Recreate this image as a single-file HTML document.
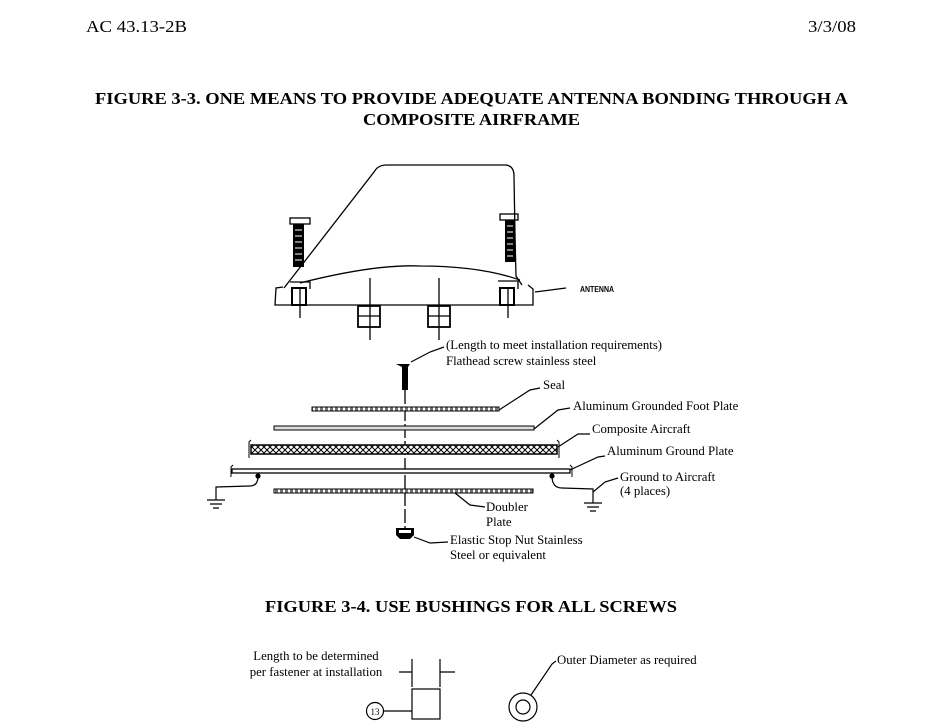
<!DOCTYPE html>
<html><head><meta charset="utf-8"><style>
html,body{margin:0;padding:0;background:#fff;}
svg{display:block;font-family:"Liberation Serif",serif;}
</style></head><body>
<svg width="940" height="728" viewBox="0 0 940 728" xmlns="http://www.w3.org/2000/svg">
<defs>
<pattern id="hatch" width="6" height="6" patternUnits="userSpaceOnUse">
<rect width="6" height="6" fill="#fff"/>
<path d="M0 3L3 0L6 3L3 6Z" fill="none" stroke="#000" stroke-width="1"/>
</pattern>
<pattern id="dash" width="5" height="4" patternUnits="userSpaceOnUse">
<rect width="5" height="4" fill="#fff"/><rect x="0" y="0" width="3" height="4" fill="#000" opacity="0.55"/>
</pattern>
</defs>
<text x="86" y="32" font-size="17" textLength="101" lengthAdjust="spacingAndGlyphs">AC 43.13-2B</text>
<text x="808" y="32" font-size="17" textLength="48" lengthAdjust="spacingAndGlyphs">3/3/08</text>
<text x="95" y="104" font-size="16.5" font-weight="bold" textLength="753" lengthAdjust="spacingAndGlyphs">FIGURE 3-3.  ONE MEANS TO PROVIDE ADEQUATE ANTENNA BONDING THROUGH A</text>
<text x="363" y="125" font-size="16.5" font-weight="bold" textLength="217" lengthAdjust="spacingAndGlyphs">COMPOSITE AIRFRAME</text>

<g fill="none" stroke="#000" stroke-width="1.3">
<path d="M284 288 L374 172 Q378 165 386 165 L506 165 Q514 166 514 176 L515 235 L516 276 L522 285"/>
<path d="M300 283 Q375 264 420 266 Q480 266 520 280"/>
<path d="M283 287 L276 288 L275 305 L533 305 L533 289 L528 285"/>
<rect x="292" y="288" width="14" height="17" stroke-width="2"/>
<rect x="500" y="288" width="14" height="17" stroke-width="2"/>
<path d="M290 282 L310 282 L310 289 M498 281 L518 281 L518 289"/>
<line x1="300" y1="288" x2="300" y2="318"/>
<line x1="508" y1="288" x2="508" y2="318"/>
<line x1="370" y1="278" x2="370" y2="340"/>
<line x1="439" y1="278" x2="439" y2="340"/>
<rect x="358" y="306" width="22" height="21" stroke-width="1.8"/>
<line x1="358" y1="316" x2="380" y2="316"/>
<rect x="428" y="306" width="22" height="21" stroke-width="1.8"/>
<line x1="428" y1="316" x2="450" y2="316"/>
<rect x="290" y="218" width="20" height="6"/>
<rect x="500" y="214" width="18" height="6"/>
</g>
<rect x="293" y="224" width="11" height="43" fill="#000"/>
<rect x="505" y="220" width="10" height="42" fill="#000"/>
<g stroke="#fff" stroke-width="1">
<path d="M295 230h7M295 236h7M295 242h7M295 248h7M295 254h7M295 260h7"/>
<path d="M507 226h6M507 232h6M507 238h6M507 244h6M507 250h6M507 256h6"/>
</g>
<path d="M535 292 L566 288" stroke="#000" stroke-width="1.3"/>
<text x="580" y="292" font-size="8" font-weight="bold" font-family="Liberation Sans,sans-serif" textLength="34" lengthAdjust="spacingAndGlyphs">ANTENNA</text>

<line x1="405" y1="390" x2="405" y2="530" stroke="#000" stroke-width="1.3" stroke-dasharray="14,3"/>
<path d="M396 364 L410 364 L408 367 L408 390 L402 390 L402 367 Z" fill="#000"/>
<rect x="312" y="407" width="187" height="4" fill="url(#dash)" stroke="#000"/>
<rect x="274" y="426" width="260" height="4" fill="#ddd" stroke="#000"/>
<rect x="251" y="445" width="306" height="9" fill="url(#hatch)" stroke="#000" stroke-width="1.5"/>
<path d="M251 440 L249 442 L249 458 M557 440 L559 442 L559 458" fill="none" stroke="#000"/>
<rect x="232" y="469" width="338" height="4" fill="#fff" stroke="#000" stroke-width="1.3"/>
<path d="M233 465 L231 467 L231 477 M570 465 L572 467 L572 477" fill="none" stroke="#000"/>
<rect x="274" y="489" width="259" height="4" fill="url(#dash)" stroke="#000"/>
<path d="M396 528 L414 528 L414 535 L410 539 L400 539 L396 535 Z" fill="#000"/>
<rect x="399" y="530" width="12" height="3" fill="#fff"/>

<g fill="none" stroke="#000" stroke-width="1.2">
<circle cx="258" cy="476" r="2" fill="#000"/>
<path d="M258 476 Q258 486 250 486 L216 487 L216 500"/>
<path d="M207 500h18M210 504h12M213 508h6"/>
<circle cx="552" cy="476" r="2" fill="#000"/>
<path d="M552 476 Q552 488 562 488 L593 489 L593 503"/>
<path d="M584 503h18M587 507h12M590 511h6"/>
<path d="M411 362 L430 352 L444 347"/>
<path d="M499 410 L530 390 L540 388"/>
<path d="M534 429 L558 410 L570 408"/>
<path d="M558 447 L578 434 L590 434"/>
<path d="M570 470 L598 457 L605 456"/>
<path d="M593 492 L605 482 L618 478"/>
<path d="M455 493 L470 505 L485 507"/>
<path d="M414 537 L430 543 L448 542"/>
</g>
<g font-size="12.8">
<text x="446" y="349">(Length to meet installation requirements)</text>
<text x="446" y="365">Flathead screw stainless steel</text>
<text x="543" y="389">Seal</text>
<text x="573" y="410">Aluminum Grounded Foot Plate</text>
<text x="592" y="433">Composite Aircraft</text>
<text x="607" y="455">Aluminum Ground Plate</text>
<text x="620" y="481">Ground to Aircraft</text>
<text x="620" y="495">(4 places)</text>
<text x="486" y="511">Doubler</text>
<text x="486" y="526">Plate</text>
<text x="450" y="544">Elastic Stop Nut Stainless</text>
<text x="450" y="559">Steel or equivalent</text>
</g>

<text x="265" y="612" font-size="16.5" font-weight="bold" textLength="412" lengthAdjust="spacingAndGlyphs">FIGURE 3-4.  USE BUSHINGS FOR ALL SCREWS</text>

<g font-size="12.8">
<text x="316" y="660" text-anchor="middle">Length to be determined</text>
<text x="316" y="676" text-anchor="middle">per fastener at installation</text>
<text x="557" y="664">Outer Diameter as required</text>
</g>
<g fill="none" stroke="#000" stroke-width="1.2">
<path d="M412 659 V687 M440 659 V687 M399 672 H412 M440 672 H455"/>
<rect x="412" y="689" width="28" height="30"/>
<circle cx="375" cy="711" r="8.5"/>
<path d="M384 711 H412"/>
<circle cx="523" cy="707" r="14"/>
<circle cx="523" cy="707" r="7"/>
<path d="M531 695 L552 664 L556 661"/>
</g>
<text x="375" y="715" font-size="9" text-anchor="middle">13</text>
</svg>
</body></html>
